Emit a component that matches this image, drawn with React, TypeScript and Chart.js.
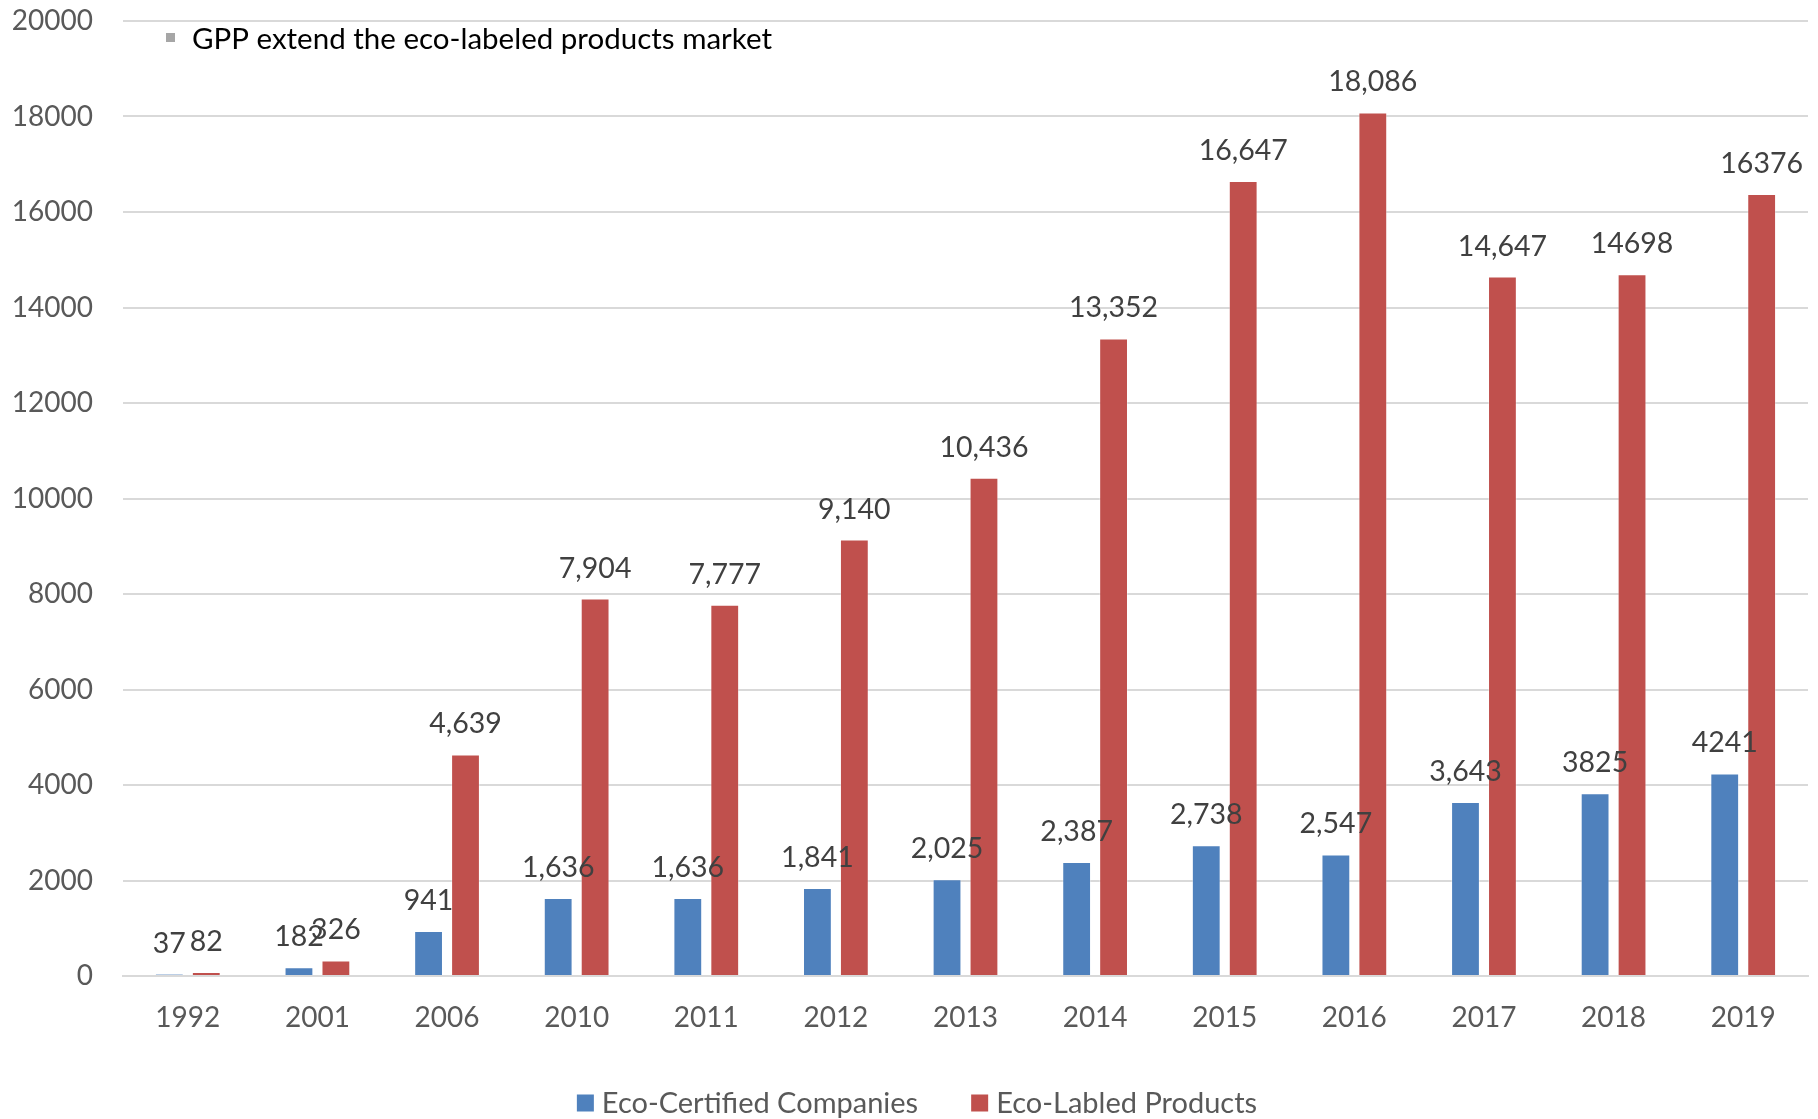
import React, { useEffect, useRef } from "react";
import { Chart, registerables } from "chart.js";

Chart.register(...registerables);

const categories = ["1992", "2001", "2006", "2010", "2011", "2012", "2013", "2014", "2015", "2016", "2017", "2018", "2019"];
const certifiedCompanies = [37, 182, 941, 1636, 1636, 1841, 2025, 2387, 2738, 2547, 3643, 3825, 4241];
const labeledProducts = [82, 326, 4639, 7904, 7777, 9140, 10436, 13352, 16647, 18086, 14647, 14698, 16376];
const certifiedLabels = ["37", "182", "941", "1,636", "1,636", "1,841", "2,025", "2,387", "2,738", "2,547", "3,643", "3825", "4241"];
const productLabels = ["82", "326", "4,639", "7,904", "7,777", "9,140", "10,436", "13,352", "16,647", "18,086", "14,647", "14698", "16376"];
const seriesNames = ["Eco-Certified Companies", "Eco-Labled Products"];
const seriesColors = ["#4F81BD", "#C0504D"];
const noteText = "GPP extend the eco-labeled products market";
const yMax = 20000;
const yStep = 2000;

const FONT = 'Lato, "Open Sans", sans-serif';

const labelPlugin = {
  id: "valueLabels",
  afterDatasetsDraw(chart: any) {
    const ctx = chart.ctx;
    ctx.save();
    ctx.font = `28.5px ${FONT}`;
    ctx.fillStyle = "#404040";
    ctx.textAlign = "center";
    ctx.textBaseline = "alphabetic";
    chart.data.datasets.forEach((ds: any, i: number) => {
      const meta = chart.getDatasetMeta(i);
      meta.data.forEach((el: any, j: number) => {
        ctx.fillText(ds.valueLabels[j], el.x, el.y - 21);
      });
    });
    ctx.restore();
  },
};

const extrasPlugin = {
  id: "extras",
  afterDraw(chart: any) {
    const ctx = chart.ctx;
    ctx.save();
    // note at top-left
    ctx.fillStyle = "#A6A6A6";
    ctx.fillRect(166, 33, 9, 9);
    ctx.font = `29.5px ${FONT}`;
    ctx.fillStyle = "#000000";
    ctx.textAlign = "left";
    ctx.textBaseline = "alphabetic";
    ctx.fillText(noteText, 192, 49);

    // legend at bottom
    ctx.font = `29px ${FONT}`;
    const box = 17;
    const gap = 8;
    const itemGap = 53;
    const widths = chart.data.datasets.map((d: any) => ctx.measureText(d.label).width);
    const total = widths.reduce((a: number, w: number) => a + box + gap + w, 0) + itemGap * (widths.length - 1);
    let x = chart.width / 2 + 8 - total / 2;
    const cy = 1103;
    chart.data.datasets.forEach((d: any, i: number) => {
      ctx.fillStyle = d.backgroundColor;
      ctx.fillRect(x, cy - box / 2, box, box);
      ctx.fillStyle = "#595959";
      ctx.textBaseline = "middle";
      ctx.fillText(d.label, x + box + gap, cy + 1);
      x += box + gap + widths[i] + itemGap;
    });
    ctx.restore();
  },
};

export default function App() {
  const ref = useRef<HTMLCanvasElement | null>(null);
  useEffect(() => {
    if (!ref.current) return;
    const chart = new Chart(ref.current, {
      type: "bar",
      data: {
        labels: categories,
        datasets: [
          {
            label: seriesNames[0],
            data: certifiedCompanies,
            backgroundColor: seriesColors[0],
            borderColor: "rgba(255,255,255,0.35)",
            borderWidth: 1,
            categoryPercentage: 0.57,
            barPercentage: 0.78,
            valueLabels: certifiedLabels,
          } as any,
          {
            label: seriesNames[1],
            data: labeledProducts,
            backgroundColor: seriesColors[1],
            borderColor: "rgba(255,255,255,0.35)",
            borderWidth: 1,
            categoryPercentage: 0.57,
            barPercentage: 0.78,
            valueLabels: productLabels,
          } as any,
        ],
      },
      options: {
        responsive: false,
        animation: false,
        layout: { padding: { top: 0, right: 10, left: 0, bottom: 0 } },
        plugins: {
          legend: { display: false },
          tooltip: { enabled: false },
          title: { display: false },
        },
        scales: {
          x: {
            grid: { display: false, drawTicks: false },
            border: { display: true, color: "#D9D9D9", width: 2 },
            ticks: {
              color: "#595959",
              font: { family: FONT, size: 28 },
              padding: 25,
              maxRotation: 0,
            },
            afterFit: (s: any) => {
              s.height = 143;
            },
          },
          y: {
            min: 0,
            max: yMax,
            grid: { color: "#D9D9D9", lineWidth: 2, drawTicks: false },
            border: { display: false },
            ticks: {
              stepSize: yStep,
              color: "#595959",
              font: { family: FONT, size: 28 },
              padding: 30,
              callback: (v: any) => String(v),
            },
            afterFit: (s: any) => {
              s.width = 123;
              s.paddingTop = 21;
              s.paddingBottom = 0;
            },
          },
        },
      },
      plugins: [labelPlugin, extrasPlugin],
    });
    return () => chart.destroy();
  }, []);
  return (
    <div style={{ position: "fixed", left: 0, top: 0, width: 1818, height: 1119, background: "#fff" }}>
      <canvas ref={ref} width={1818} height={1119} style={{ display: "block" }} />
    </div>
  );
}
